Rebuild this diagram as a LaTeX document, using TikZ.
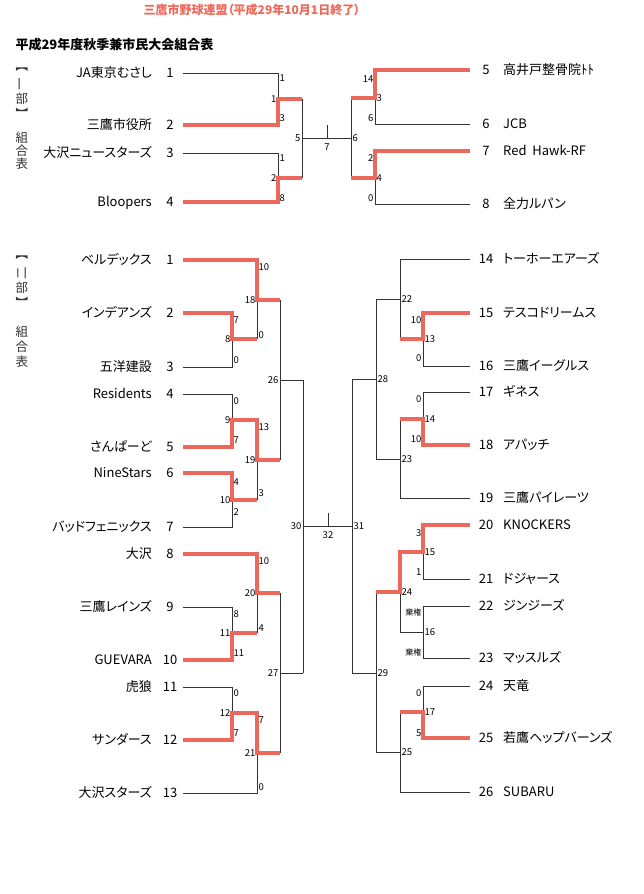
\documentclass[tikz,border=0pt]{standalone}
\usepackage{fontspec}
\setmainfont{Noto Sans CJK JP}[RawFeature=+palt]
\definecolor{winred}{RGB}{236,104,90}
\tikzset{
  lose/.style={black!80,line width=0.9pt},
  win/.style={winred,line width=4pt},
  team/.style={font=\fontsize{13}{15}\selectfont,inner sep=0pt,text height=10pt,text depth=2pt},
  sc/.style={font=\fontsize{9.5}{11}\selectfont,inner sep=1.5pt},
  vlab/.style={font=\fontsize{12.5}{14}\selectfont,black!80,inner sep=0pt},
}
\begin{document}
\begin{tikzpicture}[x=1pt,y=-1pt]
  \useasboundingbox[fill=white] (0,0) rectangle (644,894);
  % titulos
  \node[winred,font=\bfseries\fontsize{12}{14}\selectfont] (title) at (252,10) {三鷹市野球連盟（平成29年10月1日終了）};
  \node[anchor=west,font=\bfseries\fontsize{13}{15}\selectfont] (sub) at (12,45) {平成29年度秋季兼市民大会組合表};
  % rotulos verticales
  \foreach \c/\y [count=\i] in {︻/70,部/99,︼/113,組/138,合/151,表/164,︻/258,部/288,︼/302,組/332,合/347,表/362}
    \node[vlab] (v\i) at (22,\y) {\c};
  \node[vlab,rotate=90] (vone) at (22,84) {一};
  \node[vlab,rotate=90] (vtwo) at (22,273) {二};
  % equipos izquierda
  \foreach \n/\t/\y in {1/JA東京むさし/73,2/三鷹市役所/125,3/大沢ニュースターズ/153,4/Bloopers/202}{
    \node[team,anchor=east] (a\n) at (152,\y) {\t};
    \node[team] (an\n) at (170,\y) {\n};}
  \foreach \n/\t/\y in {1/ベルデックス/260,2/インデアンズ/313,3/五洋建設/367,4/Residents/394,5/さんぱーど/447,6/NineStars/473,7/バッドフェニックス/527,8/大沢/554,9/三鷹レインズ/607,10/GUEVARA/660,11/虎狼/687,12/サンダース/740,13/大沢スターズ/793}{
    \node[team,anchor=east] (b\n) at (152,\y) {\t};
    \node[team] (bn\n) at (170,\y) {\n};}
  % equipos derecha
  \foreach \n/\t/\y in {5/高井戸整骨院ﾄﾄ/70,6/JCB/124,7/Red~~Hawk-RF/151,8/全力ルパン/204}{
    \node[team] (cn\n) at (486,\y) {\n};
    \node[team,anchor=west] (c\n) at (503,\y) {\t};}
  \foreach \n/\t/\y in {14/トーホーエアーズ/259,15/テスコドリームス/313,16/三鷹イーグルス/366,17/ギネス/392,18/アパッチ/445,19/三鷹パイレーツ/498,20/KNOCKERS/525,21/ドジャース/579,22/ジンジーズ/606,23/マッスルズ/658,24/天竜/686,25/若鷹ヘップバーンズ/738,26/SUBARU/792}{
    \node[team] (dn\n) at (486,\y) {\n};
    \node[team,anchor=west] (d\n) at (503,\y) {\t};}
  % lineas (perdedores)
  \draw[lose] (183,73)--(278,73)--(278,99) (183,153)--(278,153)--(278,178) (302,99)--(302,178)
    (302,138)--(351,138) (327,125)--(327,138);
  \draw[lose] (470,124)--(375,124)--(375,98) (470,204)--(375,204)--(375,178) (351,98)--(351,178);
  \draw[lose] (183,367)--(232,367)--(232,339) (257,300)--(257,339) (183,394)--(232,394)--(232,420)
    (183,527)--(232,527)--(232,500) (257,460)--(257,500) (280,300)--(280,460) (280,380)--(303,380)
    (183,607)--(232,607)--(232,633) (257,593)--(257,633) (183,687)--(232,687)--(232,713)
    (183,793)--(257,793)--(257,753) (280,593)--(280,753) (280,673)--(303,673) (303,380)--(303,673)
    (303,526)--(352,526) (328,513)--(328,526);
  \draw[lose] (470,259)--(400,259)--(400,339) (400,299)--(376,299) (470,366)--(423,366)--(423,339)
    (470,392)--(423,392)--(423,419) (470,498)--(400,498)--(400,419) (400,459)--(376,459)
    (376,299)--(376,459) (376,379)--(352,379) (352,379)--(352,673)
    (470,579)--(423,579)--(423,552) (470,606)--(423,606)--(423,658)--(470,658) (423,632)--(400,632)
    (400,592)--(400,632) (470,686)--(423,686)--(423,712) (470,792)--(400,792)--(400,712)
    (400,752)--(376,752) (376,592)--(376,752) (376,673)--(352,673);
  % lineas (ganadores)
  \draw[win] (183,125)--(278,125)--(278,99)--(302,99) (183,202)--(278,202)--(278,178)--(302,178);
  \draw[win] (470,70)--(375,70)--(375,98)--(351,98) (470,151)--(375,151)--(375,178)--(351,178);
  \draw[win] (183,260)--(257,260)--(257,300)--(280,300) (183,313)--(232,313)--(232,339)--(257,339)
    (183,447)--(232,447)--(232,420)--(257,420)--(257,460)--(280,460) (183,473)--(232,473)--(232,500)--(257,500)
    (183,554)--(257,554)--(257,593)--(280,593) (183,660)--(232,660)--(232,633)--(257,633)
    (183,740)--(232,740)--(232,713)--(257,713)--(257,753)--(280,753);
  \draw[win] (470,313)--(423,313)--(423,339)--(400,339) (470,445)--(423,445)--(423,419)--(400,419)
    (470,525)--(423,525)--(423,552)--(400,552)--(400,592)--(376,592) (470,738)--(423,738)--(423,712)--(400,712);
  % tanteos y numeros de partido
  \foreach \x/\y/\s [count=\i] in {278/99/1,278/178/2,302/138/5,375/79/14,375/118/6,375/158/2,375/198/0,
    257/300/18,232/339/8,232/420/9,257/460/19,232/500/10,280/380/26,303/526/30,257/593/20,232/633/11,
    232/713/12,257/753/21,280/673/27,423/320/10,423/358/0,423/399/0,423/439/10,423/533/3,423/572/1,
    423/693/0,423/733/5}
    \node[sc,anchor=east] (se\i) at (\x,\y) {\s};
  \foreach \x/\y/\s [count=\i] in {278/78/1,278/118/3,278/158/1,278/198/8,351/138/6,375/98/3,375/178/4,
    257/267/10,257/335/0,232/320/7,232/360/0,232/401/0,232/440/7,257/427/13,257/493/3,232/482/4,
    232/512/2,257/561/10,257/628/4,232/614/8,232/653/11,232/693/0,232/733/7,257/720/7,257/787/0,
    400/299/22,400/459/23,400/592/24,400/752/25,423/339/13,423/419/14,423/552/15,423/632/16,
    423/712/17,376/379/28,376/673/29,352/526/31}
    \node[sc,anchor=west] (sw\i) at (\x,\y) {\s};
  \node[sc,font=\fontsize{8}{10}\selectfont,anchor=east] (kk1) at (423,612) {棄権};
  \node[sc,font=\fontsize{8}{10}\selectfont,anchor=east] (kk2) at (423,652) {棄権};
  \node[sc] (f7) at (327,147) {7};
  \node[sc] (f32) at (328,535) {32};
\end{tikzpicture}
\end{document}
